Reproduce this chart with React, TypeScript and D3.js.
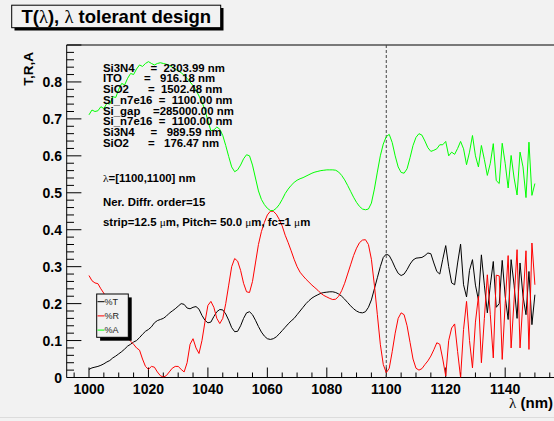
import React from "react";
import * as d3 from "d3";

// ---------- data ----------
const LAMBDA_START = 1000;
const LAMBDA_STEP = 1;

const T_VALUES = [
  0.022, 0.026, 0.028, 0.03, 0.033, 0.037, 0.042, 0.046, 0.053, 0.058,
  0.064, 0.07, 0.077, 0.085, 0.09, 0.096, 0.1, 0.108, 0.117, 0.125,
  0.13, 0.137, 0.148, 0.154, 0.157, 0.16, 0.166, 0.174, 0.18, 0.186,
  0.193, 0.2, 0.198, 0.188, 0.186, 0.19, 0.192, 0.185, 0.168, 0.155,
  0.148, 0.15, 0.165, 0.178, 0.184, 0.183, 0.172, 0.155, 0.135, 0.124,
  0.125, 0.14, 0.16, 0.175, 0.178, 0.17, 0.155, 0.138, 0.123, 0.112,
  0.105, 0.103, 0.105, 0.11, 0.118, 0.127, 0.136, 0.145, 0.153, 0.16,
  0.17, 0.18, 0.19, 0.2, 0.208, 0.215, 0.22, 0.224, 0.228, 0.23,
  0.231, 0.232, 0.232, 0.23, 0.226, 0.22, 0.212, 0.203, 0.194, 0.186,
  0.18, 0.176, 0.175, 0.178, 0.19, 0.21, 0.24, 0.27, 0.3, 0.325,
  0.334, 0.33, 0.315, 0.297, 0.282, 0.276, 0.28, 0.292, 0.307, 0.318,
  0.323, 0.324, 0.325, 0.33, 0.337, 0.335, 0.31, 0.287, 0.28, 0.32,
  0.357, 0.3, 0.256, 0.251, 0.31, 0.361, 0.251, 0.218, 0.29, 0.319,
  0.25, 0.21, 0.332, 0.25, 0.175, 0.25, 0.314, 0.19, 0.2, 0.317,
  0.22, 0.157, 0.319, 0.25, 0.16, 0.31, 0.22, 0.17, 0.287, 0.143,
  0.224,
];

const R_VALUES = [
  0.276, 0.262, 0.256, 0.254, 0.24, 0.228, 0.212, 0.196, 0.18, 0.163,
  0.147, 0.133, 0.12, 0.108, 0.098, 0.09, 0.08, 0.074, 0.05, 0.03,
  0.022, 0.03, 0.028, 0.015, 0.005, 0.001, 0.005, 0.015, 0.025, 0.03,
  0.03, 0.022, 0.015, 0.04, 0.09, 0.105, 0.08, 0.065, 0.1, 0.15,
  0.195, 0.206, 0.19, 0.16, 0.146, 0.16, 0.2, 0.25, 0.3, 0.322,
  0.315, 0.29, 0.255, 0.232, 0.23, 0.26, 0.31, 0.36, 0.395, 0.42,
  0.44, 0.45, 0.45, 0.442, 0.428, 0.41, 0.385, 0.365, 0.343, 0.32,
  0.3, 0.285, 0.275, 0.266, 0.258, 0.25, 0.243, 0.236, 0.228, 0.222,
  0.218, 0.214, 0.211, 0.212, 0.22, 0.235, 0.255, 0.28, 0.305, 0.33,
  0.35, 0.365, 0.372, 0.373, 0.36, 0.32, 0.25, 0.17, 0.09, 0.035,
  0.013, 0.025, 0.07, 0.12, 0.16, 0.175, 0.17, 0.14, 0.095, 0.05,
  0.025, 0.02, 0.024, 0.035, 0.045, 0.058, 0.075, 0.094, 0.09, 0.05,
  0.004, 0.1, 0.134, 0.145, 0.07, 0.0, 0.13, 0.206, 0.1, 0.026,
  0.15, 0.22, 0.04, 0.16, 0.278, 0.17, 0.053, 0.277, 0.275, 0.049,
  0.2, 0.33, 0.08, 0.21, 0.346, 0.08, 0.21, 0.343, 0.076, 0.364,
  0.251,
];

const A_VALUES = [
  0.711, 0.724, 0.72, 0.722, 0.733, 0.728, 0.742, 0.74, 0.76, 0.758,
  0.78, 0.796, 0.792, 0.81, 0.823, 0.82, 0.835, 0.846, 0.842, 0.85,
  0.855, 0.85, 0.846, 0.85, 0.852, 0.85, 0.848, 0.845, 0.84, 0.835,
  0.83, 0.825, 0.818, 0.81, 0.8, 0.79, 0.778, 0.762, 0.745, 0.725,
  0.695, 0.668, 0.67, 0.678, 0.672, 0.655, 0.628, 0.598, 0.57, 0.557,
  0.562, 0.575, 0.592, 0.603, 0.6, 0.575, 0.54, 0.505, 0.482, 0.468,
  0.458, 0.452, 0.452, 0.458, 0.468, 0.482, 0.498, 0.51, 0.52, 0.528,
  0.534, 0.538, 0.541, 0.545, 0.549, 0.553, 0.556, 0.558, 0.56, 0.561,
  0.562, 0.562, 0.562, 0.561, 0.556, 0.547, 0.535, 0.52, 0.504, 0.488,
  0.474, 0.463, 0.456, 0.454, 0.456, 0.472, 0.51, 0.556, 0.6, 0.632,
  0.652, 0.658, 0.636, 0.6, 0.57, 0.555, 0.553, 0.565, 0.595, 0.628,
  0.65, 0.66, 0.656, 0.64, 0.622, 0.612, 0.615, 0.619, 0.63, 0.63,
  0.639, 0.6, 0.61, 0.604, 0.62, 0.639, 0.619, 0.576, 0.61, 0.655,
  0.6, 0.57, 0.628, 0.59, 0.547, 0.58, 0.633, 0.533, 0.525, 0.634,
  0.58, 0.513, 0.601, 0.54, 0.494, 0.61, 0.57, 0.487, 0.637, 0.493,
  0.525,
];

const SERIES_NAMES = ["%T", "%R", "%A"];
const SERIES_COLORS = ["#000000", "#ff0000", "#00ff00"];

const X_MAJOR_TICKS = [1000, 1020, 1040, 1060, 1080, 1100, 1120, 1140];
const Y_MAJOR_TICKS = [0, 0.1, 0.2, 0.3, 0.4, 0.5, 0.6, 0.7, 0.8];
const Y_TICK_LABELS = ["0", "0.1", "0.2", "0.3", "0.4", "0.5", "0.6", "0.7", "0.8"];

const LAYER_NAMES = ["Si3N4", "ITO", "SiO2", "Si_n7e16", "Si_gap", "Si_n7e16", "Si3N4", "SiO2"];
const LAYER_THICKNESS = [2303.99, 916.18, 1502.48, 1100.0, 285000.0, 1100.0, 989.59, 176.47];

const MARKER_LAMBDA = 1100;

// ---------- layout ----------
const W = 554;
const H = 421;
const FX0 = 66.7;
const FX1 = 557.2;
const FY0 = 45;
const FY1 = 377.5;
const BG = "#f2f2f2";
const FONT = "'Liberation Sans', Arial, Helvetica, sans-serif";
const SYM = "'Liberation Serif', 'DejaVu Serif', serif";

export default function App() {
  const x = d3.scaleLinear().domain([992.5, 1157.5]).range([FX0, FX1]);
  const y = d3.scaleLinear().domain([0, 0.9]).range([FY1, FY0]);

  const lambdas = T_VALUES.map((_, i) => LAMBDA_START + i * LAMBDA_STEP);
  const series = [T_VALUES, R_VALUES, A_VALUES];
  const line = d3
    .line<number>()
    .x((_, i) => x(lambdas[i]))
    .y((d) => y(d));

  const xMinor = d3.range(995, 1157.5, 5).filter((v) => !X_MAJOR_TICKS.includes(v));
  const yMinor = d3.range(0, 0.9001, 0.02);

  const textLines = LAYER_NAMES.map(
    (n, i) => n.padEnd(9, " ") + " =" + LAYER_THICKNESS[i].toFixed(2).padStart(9, " ") + " nm"
  );

  return (
    <svg
      width={W}
      height={H}
      style={{ position: "absolute", left: 0, top: 0, background: BG }}
      fontFamily={FONT}
    >
      <rect x={0} y={0} width={W} height={H} fill={BG} />
      <line x1={0} x2={W} y1={417.5} y2={417.5} stroke="#dcdcdc" strokeWidth={1} />
      <defs>
        <clipPath id="frameClip">
          <rect x={FX0} y={FY0} width={FX1 - FX0} height={FY1 - FY0} />
        </clipPath>
      </defs>

      {/* frame */}
      <line x1={FX0} x2={FX1} y1={FY0} y2={FY0} stroke="#000" strokeWidth={1} />
      <line x1={FX0} x2={FX0} y1={FY0} y2={FY1} stroke="#000" strokeWidth={1} />
      <line x1={FX0} x2={FX1} y1={FY1} y2={FY1} stroke="#000" strokeWidth={1} />

      {/* y ticks */}
      {yMinor.map((v, i) => {
        const major = i % 5 === 0;
        return (
          <line
            key={"ym" + i}
            x1={FX0}
            x2={FX0 + (major ? 14.7 : 7.3)}
            y1={y(v)}
            y2={y(v)}
            stroke="#000"
            strokeWidth={1}
          />
        );
      })}
      {Y_MAJOR_TICKS.map((v, i) => (
        <text
          key={"yl" + i}
          x={62}
          y={y(v) + 5}
          textAnchor="end"
          fontSize={14}
          fontWeight="bold"
        >
          {Y_TICK_LABELS[i]}
        </text>
      ))}

      {/* x ticks */}
      {xMinor.map((v) => (
        <line key={"xm" + v} x1={x(v)} x2={x(v)} y1={FY1} y2={FY1 - 5} stroke="#000" strokeWidth={1} />
      ))}
      {X_MAJOR_TICKS.map((v) => (
        <line key={"xM" + v} x1={x(v)} x2={x(v)} y1={FY1} y2={FY1 - 10} stroke="#000" strokeWidth={1} />
      ))}
      {X_MAJOR_TICKS.map((v) => (
        <text key={"xl" + v} x={x(v)} y={393.5} textAnchor="middle" fontSize={14} fontWeight="bold">
          {v}
        </text>
      ))}

      {/* axis titles */}
      <text x={553} y={408} textAnchor="end" fontSize={15} fontWeight="bold">
        <tspan fontFamily={SYM} fontWeight="normal">λ</tspan> (nm)
      </text>
      <text
        transform="translate(33,52) rotate(-90)"
        textAnchor="end"
        fontSize={13.5}
        fontWeight="bold"
      >
        T,R,A
      </text>

      {/* marker line */}
      <line
        x1={x(MARKER_LAMBDA)}
        x2={x(MARKER_LAMBDA)}
        y1={FY0}
        y2={FY1}
        stroke="#444"
        strokeWidth={1}
        strokeDasharray="3,2"
      />

      {/* curves */}
      <g clipPath="url(#frameClip)">
        {series.map((s, k) => (
          <path key={"s" + k} d={line(s) || ""} fill="none" stroke={SERIES_COLORS[k]} strokeWidth={1} />
        ))}
      </g>

      {/* text block */}
      <g fontSize={11.4} fontWeight="bold" fill="#000">
        {textLines.map((t, i) => (
          <text key={"tl" + i} x={103} y={71.7 + i * 10.7} style={{ whiteSpace: "pre" }}>
            {t}
          </text>
        ))}
        <text x={103} y={181.5}>
          <tspan fontFamily={SYM} fontWeight="normal">λ</tspan>=[1100,1100] nm
        </text>
        <text x={103} y={206}>Ner. Diffr. order=15</text>
        <text x={103} y={226}>
          strip=12.5 <tspan fontFamily={SYM} fontWeight="normal">μ</tspan>m, Pitch= 50.0{" "}
          <tspan fontFamily={SYM} fontWeight="normal">μ</tspan>m, fc=1{" "}
          <tspan fontFamily={SYM} fontWeight="normal">μ</tspan>m
        </text>
      </g>

      {/* legend */}
      <rect x={100.1} y={297.4} width={31.6} height={43.3} fill="#000" />
      <rect x={96.7} y={294} width={31.6} height={43.3} fill={BG} stroke="#000" strokeWidth={1} />
      {SERIES_NAMES.map((n, i) => (
        <g key={"lg" + i}>
          <line
            x1={97.5}
            x2={104.5}
            y1={301.7 + i * 14.2}
            y2={301.7 + i * 14.2}
            stroke={SERIES_COLORS[i]}
            strokeWidth={1}
          />
          <text x={104.5} y={305 + i * 14.2} fontSize={9} fill="#222">
            {n}
          </text>
        </g>
      ))}

      {/* title */}
      <rect x={14.5} y={8} width={209} height={22.5} fill="#000" />
      <rect x={11.7} y={5.2} width={209} height={22.5} fill={BG} stroke="#000" strokeWidth={1} />
      <text x={21.5} y={23.3} fontSize={18.5} fontWeight="bold">
        T(<tspan fontFamily={SYM} fontWeight="normal">λ</tspan>),{" "}
        <tspan fontFamily={SYM} fontWeight="normal">λ</tspan> tolerant design
      </text>
    </svg>
  );
}
